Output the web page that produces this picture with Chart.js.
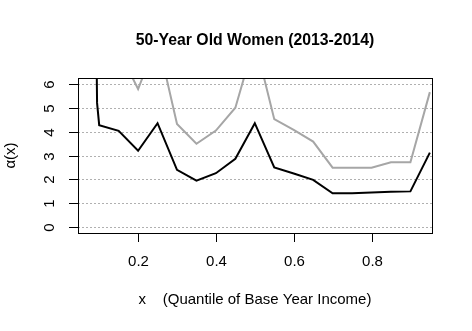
<!DOCTYPE html>
<html>
<head>
<meta charset="utf-8">
<script src="https://cdn.jsdelivr.net/npm/chart.js@4/dist/chart.umd.min.js"></script>
<style>
html,body{margin:0;padding:0;background:#fff;}
#wrap{width:472px;height:331px;position:relative;}
</style>
</head>
<body>
<div id="wrap"><canvas id="c"></canvas></div>
<script>
// ---- data ----
const blackX = [0.09, 0.0945, 0.10, 0.15, 0.20, 0.25, 0.30, 0.35, 0.40, 0.45, 0.50, 0.55, 0.60, 0.65, 0.70, 0.75, 0.80, 0.85, 0.90, 0.95];
const blackY = [12.0, 5.2, 4.27, 4.03, 3.20, 4.35, 2.40, 1.95, 2.26, 2.86, 4.35, 2.50, 2.25, 1.98, 1.42, 1.42, 1.45, 1.48, 1.50, 3.12];
const grayX  = [0.10, 0.15, 0.20, 0.25, 0.30, 0.35, 0.40, 0.45, 0.50, 0.55, 0.60, 0.65, 0.70, 0.75, 0.80, 0.85, 0.90, 0.95];
const grayY  = [8.5, 7.4, 5.78, 7.86, 4.32, 3.49, 4.04, 5.00, 7.80, 4.52, 4.07, 3.58, 2.49, 2.49, 2.49, 2.72, 2.72, 5.65];
const xTicks = [0.2, 0.4, 0.6, 0.8];
const yTicks = [0, 1, 2, 3, 4, 5, 6];
const titleText = "50-Year Old Women (2013-2014)";
const xTitle = "x    (Quantile of Base Year Income)";
const yTitle = "\u03B1(x)";

const FONT = "'Liberation Sans', Arial, sans-serif";

const rPlot = {
  id: 'rPlot',
  beforeDatasetsDraw(chart) {
    const {ctx, chartArea: a, scales: {y}} = chart;
    ctx.save();
    ctx.strokeStyle = '#b0b0b0';
    ctx.lineWidth = 1;
    ctx.setLineDash([2, 2]);
    yTicks.forEach(v => {
      const py = Math.round(y.getPixelForValue(v)) + 0.5;
      ctx.beginPath(); ctx.moveTo(a.left, py); ctx.lineTo(a.right, py); ctx.stroke();
    });
    ctx.restore();
  },
  afterDatasetsDraw(chart) {
    const {ctx, chartArea: a, scales: {x, y}} = chart;
    ctx.save();
    ctx.strokeStyle = '#000';
    ctx.lineWidth = 1;
    ctx.setLineDash([]);
    ctx.strokeRect(a.left + 0.5, a.top + 0.5, a.right - a.left, a.bottom - a.top);
    // x ticks
    ctx.fillStyle = '#000';
    ctx.font = `15px ${FONT}`;
    ctx.textAlign = 'center';
    ctx.textBaseline = 'middle';
    xTicks.forEach(v => {
      const px = Math.round(x.getPixelForValue(v)) + 0.5;
      ctx.beginPath(); ctx.moveTo(px, a.bottom); ctx.lineTo(px, a.bottom + 9); ctx.stroke();
      ctx.fillText(v.toFixed(1), px, 262);
    });
    // y ticks
    yTicks.forEach(v => {
      const py = Math.round(y.getPixelForValue(v)) + 0.5;
      ctx.beginPath(); ctx.moveTo(a.left - 9, py); ctx.lineTo(a.left, py); ctx.stroke();
      ctx.save();
      ctx.translate(50, py);
      ctx.rotate(-Math.PI / 2);
      ctx.fillText(String(v), 0, 0);
      ctx.restore();
    });
    // titles
    ctx.font = `bold 15.8px ${FONT}`;
    ctx.fillText(titleText, (a.left + a.right) / 2, 41);
    ctx.font = `15px ${FONT}`;
    ctx.fillText(xTitle, (a.left + a.right) / 2, 300);
    ctx.save();
    ctx.translate(11, (a.top + a.bottom) / 2);
    ctx.rotate(-Math.PI / 2);
    ctx.fillText(yTitle, 0, 0);
    ctx.restore();
    ctx.restore();
  }
};

new Chart(document.getElementById('c'), {
  type: 'line',
  data: {
    datasets: [
      { data: grayX.map((v, i) => ({x: v, y: grayY[i]})), borderColor: '#a6a6a6', borderWidth: 2, pointRadius: 0, tension: 0, fill: false },
      { data: blackX.map((v, i) => ({x: v, y: blackY[i]})), borderColor: '#000000', borderWidth: 2, pointRadius: 0, tension: 0, fill: false }
    ]
  },
  options: {
    responsive: true,
    maintainAspectRatio: false,
    animation: false,
    devicePixelRatio: 1,
    layout: { padding: { left: 78, top: 78, right: 40, bottom: 98 } },
    plugins: { legend: { display: false }, tooltip: { enabled: false }, title: { display: false } },
    scales: {
      x: { type: 'linear', min: 0.0455, max: 0.9555, display: false },
      y: { type: 'linear', min: -0.24, max: 6.24, display: false }
    }
  },
  plugins: [rPlot]
});
</script>
</body>
</html>
